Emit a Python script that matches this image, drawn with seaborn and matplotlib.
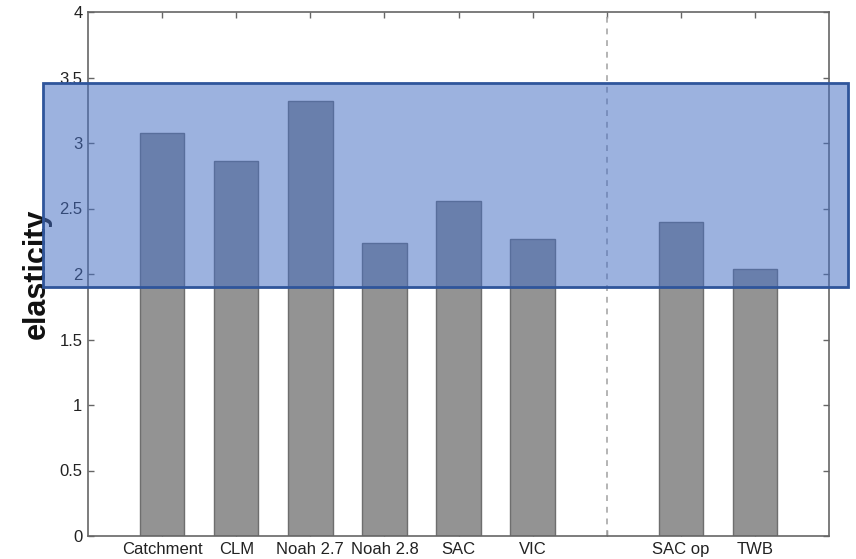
import matplotlib
matplotlib.use("Agg")
import matplotlib.pyplot as plt
import matplotlib.patches as mpatches
import seaborn as sns
import pandas as pd

categories = ["Catchment", "CLM", "Noah 2.7", "Noah 2.8", "SAC", "VIC", "SAC op", "TWB"]
positions = [1, 2, 3, 4, 5, 6, 8, 9]
values = [3.08, 2.86, 3.32, 2.24, 2.56, 2.27, 2.40, 2.04]
tick_positions = [1, 2, 3, 4, 5, 6, 7, 8, 9]
tick_labels = ["Catchment", "CLM", "Noah 2.7", "Noah 2.8", "SAC", "VIC", "", "SAC op", "TWB"]
yticks = [0, 0.5, 1, 1.5, 2, 2.5, 3, 3.5, 4]
ytick_labels = ["0", "0.5", "1", "1.5", "2", "2.5", "3", "3.5", "4"]
separator_x = 7
highlight_low, highlight_high = 1.9, 3.455
highlight_left, highlight_right = -0.61, 10.26

sns.set_style("white")
plt.rcParams["font.family"] = ["Liberation Sans", "DejaVu Sans"]

df = pd.DataFrame({"pos": positions, "value": values, "model": categories})

fig = plt.figure(figsize=(8.56, 5.59), dpi=100)
ax = fig.add_axes([88/856, 23/559, (829-88)/856, (536-12)/559])

sns.barplot(data=df, x="pos", y="value", native_scale=True, width=0.6,
            color="#939393", edgecolor="#6e6e6e", linewidth=1.0, saturation=1,
            ax=ax, zorder=2)

ax.axvline(separator_x, color="#a8a8a8", linestyle=(0, (3.5, 3.5)), linewidth=1.2, zorder=1)

ax.set_xlim(0, 10)
ax.set_ylim(0, 4)
ax.set_xticks(tick_positions)
ax.set_xticklabels(tick_labels, fontsize=12, color="#222222")
ax.set_yticks(yticks)
ax.set_yticklabels(ytick_labels, fontsize=12, color="#222222")
ax.tick_params(direction="in", length=4, width=1, color="#666666",
               top=True, right=True, bottom=True, left=True, pad=4)
ax.set_xlabel("")
ax.set_ylabel("elasticity", fontsize=22, fontweight="bold", color="#111111")
ax.yaxis.set_label_coords(-0.049, 0.5)
for s in ax.spines.values():
    s.set_visible(True)
    s.set_color("#666666")
    s.set_linewidth(1.2)

rect = mpatches.Rectangle((highlight_left, highlight_low),
                          highlight_right - highlight_left,
                          highlight_high - highlight_low,
                          transform=ax.transData, clip_on=False,
                          facecolor=(69/255, 110/255, 196/255, 0.53),
                          edgecolor="#2f559b", linewidth=2, zorder=10)
fig.add_artist(rect)

fig.savefig("out.png", dpi=100)
